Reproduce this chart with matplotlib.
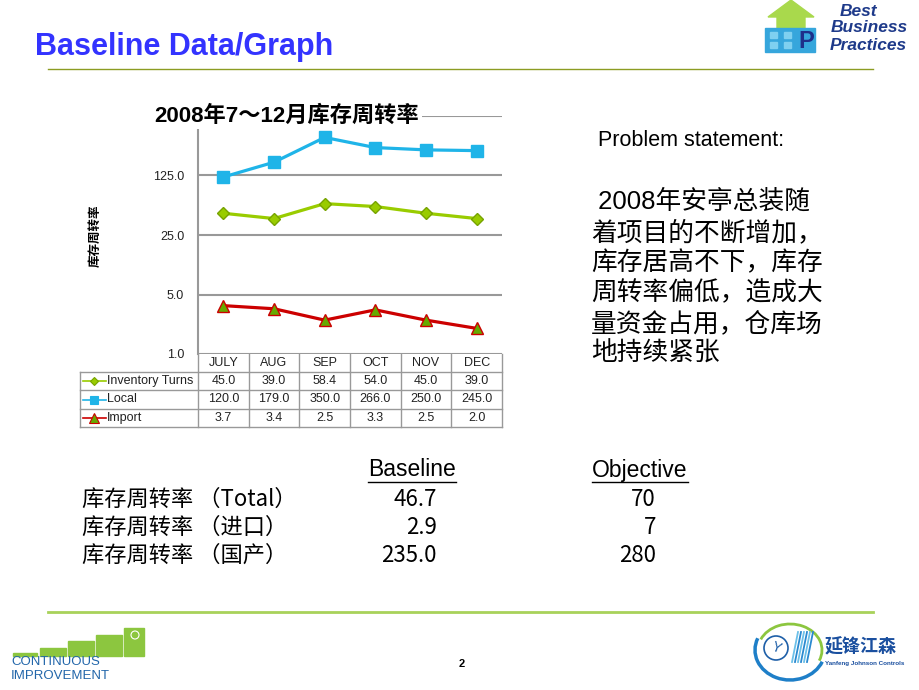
import numpy as np
import matplotlib
matplotlib.use("Agg")
import matplotlib.pyplot as plt
from matplotlib.patches import Rectangle, Polygon, Circle, Arc
from matplotlib.ticker import NullLocator

plt.rcParams['font.family'] = ['Liberation Sans', 'Noto Sans CJK SC', 'DejaVu Sans']

# chart data
months = ["JULY", "AUG", "SEP", "OCT", "NOV", "DEC"]
inventory_turns = [45.0, 39.0, 58.4, 54.0, 45.0, 39.0]
local = [120.0, 179.0, 350.0, 266.0, 250.0, 245.0]
imports = [3.7, 3.4, 2.5, 3.3, 2.5, 2.0]
series_names = ["Inventory Turns", "Local", "Import"]
y_ticks = [1, 5, 25, 125, 625]

# summary table below the chart
summary_labels = ["库存周转率 （Total）", "库存周转率 （进口）", "库存周转率 （国产）"]
baseline = [46.7, 2.9, 235.0]
objective = [70, 7, 280]

problem_lines = [" 2008年安亭总装随", "着项目的不断增加，", "库存居高不下，库存",
                 "周转率偏低，造成大", "量资金占用，仓库场", "地持续紧张"]

colors = ['#99cc00', '#1fb4e8', '#cc0000']
markers = ['D', 's', '^']
msizes = [6, 8, 8.5]
mfaces = ['#99cc00', '#1fb4e8', '#66aa00']
medges = ['#77a300', '#1fb4e8', '#cc0000']

fig = plt.figure(figsize=(9.2, 6.9), dpi=100)

# background axes in pixel coordinates for the slide furniture
bg = fig.add_axes([0, 0, 1, 1])
bg.set_xlim(0, 920)
bg.set_ylim(690, 0)
bg.axis('off')

# slide title and rules
bg.text(35, 47, "Baseline Data/Graph", fontsize=22, fontweight='bold',
        color='#3333ff', ha='left', va='center')
bg.plot([48, 873], [69, 69], color='#8c9c22', lw=1)
bg.plot([48, 873], [612, 612], color='#a8d25a', lw=2)
bg.text(462, 664, "2", fontsize=8, fontweight='bold', ha='center', va='center')

# BBP logo
bg.add_patch(Polygon([(777, 31), (777, 17), (768, 17), (791, 0), (814, 17),
                      (805, 17), (805, 31)], closed=True, color='#a9d94c'))
bg.add_patch(Rectangle((765, 28), 50, 24, color='#36a6dc'))
for sx in [770, 784]:
    for sy in [32, 42]:
        bg.add_patch(Rectangle((sx, sy), 7, 6, color='#7fd0f0'))
bg.text(806, 41, "P", fontsize=17, fontweight='bold', color='#1e2f8a',
        ha='center', va='center')
for txt, yy, xx in [("Best", 11, 840), ("Business", 28, 831), ("Practices", 45, 830)]:
    bg.text(xx, yy, txt, fontsize=12.5, fontweight='bold', style='italic',
            color='#1e3a8a', ha='left', va='center')

# continuous improvement logo
for (bx, bw, top) in [(13, 24, 653), (40, 26, 648), (68, 26, 641), (96, 26, 635), (124, 20, 628)]:
    bg.add_patch(Rectangle((bx, top), bw, 656 - top, color='#8cc63f'))
bg.add_patch(Circle((135, 635), 4, fill=False, ec='white', lw=0.8))
bg.text(11, 665, "CONTINUOUS", fontsize=9.5, color='#2266aa', ha='left', va='baseline')
bg.text(11, 679, "IMPROVEMENT", fontsize=9.5, color='#2266aa', ha='left', va='baseline')

# Yanfeng logo
bg.add_patch(Arc((790, 650), 64, 52, theta1=200, theta2=20, color='#8cc63f', lw=2))
bg.add_patch(Arc((790, 650), 70, 60, theta1=20, theta2=200, color='#1e7fc8', lw=2.5))
bg.add_patch(Circle((776, 648), 12, fill=False, ec='#1e5fa8', lw=1.2))
bg.text(776, 648, "Y", fontsize=10, color='#1e5fa8', ha='center', va='center', rotation=-20)
for k in range(6):
    bg.plot([792 + k * 3, 798 + k * 3], [662, 632], color='#2a8ad0' if k % 2 else '#6cc0e8', lw=1.3)
bg.text(825, 647, "延锋江森", fontsize=13, fontweight='bold', color='#1a4f9f',
        ha='left', va='center', family=['Noto Sans CJK SC'])
bg.text(825, 663, "Yanfeng Johnson Controls", fontsize=4.5, fontweight='bold',
        color='#1a4f9f', ha='left', va='center')

# problem statement
bg.text(598, 141, "Problem statement:", fontsize=15.5, ha='left', va='center')
for i, line in enumerate(problem_lines):
    bg.text(591, 202 + i * 30.4, line, fontsize=18.5, ha='left', va='center',
            family=['Liberation Sans', 'Noto Sans CJK SC'])

# summary table
bg.text(412, 470, "Baseline", fontsize=16.5, ha='center', va='center')
bg.plot([368, 456], [482, 482], color='black', lw=1)
bg.text(640, 470, "Objective", fontsize=16.5, ha='center', va='center')
bg.plot([592, 688], [482, 482], color='black', lw=1)
for i, lab in enumerate(summary_labels):
    yy = 499 + i * 28
    bg.text(82, yy, lab, fontsize=16, ha='left', va='center', family=['Noto Sans CJK SC'])
    bg.text(437, yy, f"{baseline[i]:.1f}", fontsize=16, ha='right', va='center',
            family=['Noto Sans CJK SC'])
    bg.text(656, yy, str(objective[i]), fontsize=16, ha='right', va='center',
            family=['Noto Sans CJK SC'])

# chart
L, R, T, B = 198, 502, 116, 354
ax = fig.add_axes([L / 920, 1 - B / 690, (R - L) / 920, (B - T) / 690])
ax.patch.set_alpha(0)
x = np.arange(len(months))
for vals, c, m, ms, mf, me in zip([inventory_turns, local, imports], colors, markers,
                                   msizes, mfaces, medges):
    ax.plot(x, vals, color=c, lw=2.3, marker=m, ms=ms, mfc=mf, mec=me, mew=1, zorder=3)
ax.set_yscale('log', base=5)
ax.set_ylim(1, 625)
ax.set_xlim(-0.5, len(months) - 0.5)
ax.set_yticks(y_ticks)
# top label sits under the chart title box, so it is left blank
ax.set_yticklabels([f"{v:.1f}" if v < 625 else "" for v in y_ticks])
ax.yaxis.set_minor_locator(NullLocator())
ax.set_xticks([])
ax.grid(axis='y', color='#999999', lw=1.5)
for s in ['top', 'right', 'bottom']:
    ax.spines[s].set_visible(False)
ax.spines['left'].set_color('#999999')
ax.spines['left'].set_linewidth(1.5)
ax.tick_params(axis='y', length=0, pad=10, labelsize=9, labelcolor='#222222')

bg.text(95, 236, "库存周转率", rotation=90, fontsize=9, fontweight='bold',
        ha='center', va='center', family=['Noto Sans CJK SC'])

fig.text(287, 116, "2008年7～12月库存周转率", transform=bg.transData, fontsize=16,
         fontweight='bold', ha='center', va='center',
         family=['Liberation Sans', 'Noto Sans CJK SC'],
         bbox=dict(fc='white', ec='none', pad=2))

# data table under the chart
col_w = (R - L) / len(months)
row_y = [354, 372, 390, 409, 427]
for k in range(len(months) + 1):
    bg.plot([L + k * col_w] * 2, [354, 427], color='#999999', lw=1)
bg.plot([80, 80], [372, 427], color='#999999', lw=1)
for yy in row_y[1:]:
    bg.plot([80, R], [yy, yy], color='#999999', lw=1)
for k, mname in enumerate(months):
    bg.text(L + (k + 0.5) * col_w, 363, mname, fontsize=9, ha='center', va='center', color='#222222')
for r, (name, vals) in enumerate(zip(series_names, [inventory_turns, local, imports])):
    yy = (row_y[r + 1] + row_y[r + 2]) / 2
    bg.plot([83, 106], [yy, yy], color=colors[r], lw=1.2)
    bg.plot([94.5], [yy], marker=markers[r], ms=msizes[r] - 2, mfc=mfaces[r], mec=medges[r], mew=0.8,
            color=colors[r])
    bg.text(107, yy, name, fontsize=9, ha='left', va='center', color='#222222')
    for k, v in enumerate(vals):
        bg.text(L + (k + 0.5) * col_w, yy, f"{v:.1f}", fontsize=9, ha='center', va='center',
                color='#222222')

fig.savefig("out.png", dpi=100)
